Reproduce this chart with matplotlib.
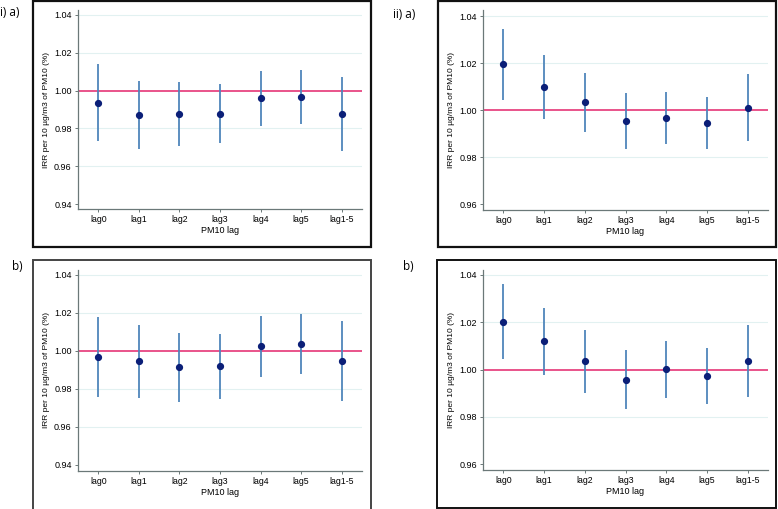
import matplotlib.pyplot as plt
from matplotlib.patches import Rectangle

W, H = 778, 509

lags = ['lag0', 'lag1', 'lag2', 'lag3', 'lag4', 'lag5', 'lag1-5']

# i) a)
irr_ia = [0.9936, 0.9873, 0.9878, 0.9878, 0.9959, 0.9966, 0.9878]
lo_ia = [0.9735, 0.9691, 0.9709, 0.9721, 0.9813, 0.9823, 0.9682]
hi_ia = [1.0139, 1.0053, 1.0044, 1.0035, 1.0105, 1.0111, 1.0070]

# i) b)
irr_ib = [0.9970, 0.9947, 0.9914, 0.9921, 1.0025, 1.0037, 0.9947]
lo_ib = [0.9756, 0.9754, 0.9733, 0.9749, 0.9861, 0.9876, 0.9739]
hi_ib = [1.0181, 1.0139, 1.0093, 1.0089, 1.0184, 1.0195, 1.0158]

# ii) a)
irr_iia = [1.0195, 1.0098, 1.0033, 0.9954, 0.9967, 0.9946, 1.0011]
lo_iia = [1.0043, 0.9963, 0.9909, 0.9836, 0.9854, 0.9836, 0.9867]
hi_iia = [1.0346, 1.0234, 1.0157, 1.0073, 1.0078, 1.0054, 1.0153]

# ii) b)
irr_iib = [1.0201, 1.0119, 1.0035, 0.9957, 1.0001, 0.9973, 1.0038]
lo_iib = [1.0043, 0.9976, 0.9901, 0.9831, 0.9881, 0.9856, 0.9885]
hi_iib = [1.0361, 1.0260, 1.0168, 1.0084, 1.0122, 1.0091, 1.0189]

yticks_i = [0.94, 0.96, 0.98, 1.00, 1.02, 1.04]
yticks_ii = [0.96, 0.98, 1.00, 1.02, 1.04]

spine_col = '#6b7878'
grid_col = '#e2f1f1'
bar_col = '#4f86bb'
dot_col = '#0b1f78'
ref_col = '#e3256b'

fig = plt.figure(figsize=(W / 100, H / 100), dpi=100)


def px_axes(x0, x1, y0, y1):
    # pixel box (top-left origin) -> figure axes
    return fig.add_axes([x0 / W, 1 - y1 / H, (x1 - x0) / W, (y1 - y0) / H])


def frame(x0, x1, y0, y1, col, lw):
    fig.patches.append(Rectangle((x0 / W, 1 - y1 / H), (x1 - x0) / W, (y1 - y0) / H,
                                 transform=fig.transFigure, fill=False,
                                 edgecolor=col, lw=lw, zorder=0))


def panel(ax, irr, lo, hi, yticks, ylim):
    x = range(len(lags))
    ax.set_ylim(ylim)
    ax.set_xlim(-0.5, 6.5)
    for t in yticks:
        if t != 1.00 and t != yticks[0]:
            ax.axhline(t, color=grid_col, lw=0.8, zorder=0)
    ax.axhline(1.0, color=ref_col, lw=1.1, zorder=1)
    ax.vlines(x, lo, hi, color=bar_col, lw=1.3, zorder=2)
    ax.plot(x, irr, 'o', color=dot_col, ms=4.2, zorder=3)
    ax.set_xticks(list(x))
    ax.set_xticklabels(lags, fontsize=6.3, family='Liberation Sans')
    ax.set_yticks(yticks)
    ax.set_yticklabels(['%.2f' % t for t in yticks], fontsize=6.5, family='Liberation Sans')
    ax.tick_params(length=2.5, width=0.7, color=spine_col, pad=2)
    for s in ['top', 'right']:
        ax.spines[s].set_visible(False)
    for s in ['left', 'bottom']:
        ax.spines[s].set_color(spine_col)
        ax.spines[s].set_linewidth(0.9)
    ax.set_xlabel('PM10 lag', fontsize=6.5, family='Liberation Sans', labelpad=1)
    ax.set_ylabel('IRR per 10 µg/m3 of PM10 (%)', fontsize=6, family='Liberation Sans', labelpad=3)
    ax.patch.set_alpha(0)


# frames
frame(33, 371, 1, 247, '#111111', 1.6)
frame(438, 776, 1, 247, '#111111', 1.6)
frame(33, 371, 260, 512, '#444444', 1.4)
frame(437, 776, 260, 508, '#111111', 1.4)

ax1 = px_axes(78, 362, 10, 209)
panel(ax1, irr_ia, lo_ia, hi_ia, yticks_i, (0.9374, 1.0426))

ax2 = px_axes(483, 768, 10, 210)
panel(ax2, irr_iia, lo_iia, hi_iia, yticks_ii, (0.9575, 1.0426))

ax3 = px_axes(78, 362, 270, 471)
panel(ax3, irr_ib, lo_ib, hi_ib, yticks_i, (0.9368, 1.0426))

ax4 = px_axes(483, 768, 270, 470)
panel(ax4, irr_iib, lo_iib, hi_iib, yticks_ii, (0.9575, 1.0421))

lab = dict(fontsize=8.5, family='Open Sans', va='center', ha='left')
fig.text(0 / W, 1 - 12 / H, 'i) a)', **lab)
fig.text(393 / W, 1 - 15 / H, 'ii) a)', **lab)
fig.text(12 / W, 1 - 267 / H, 'b)', **lab)
fig.text(403 / W, 1 - 267 / H, 'b)', **lab)

fig.savefig('out.png', dpi=100)
